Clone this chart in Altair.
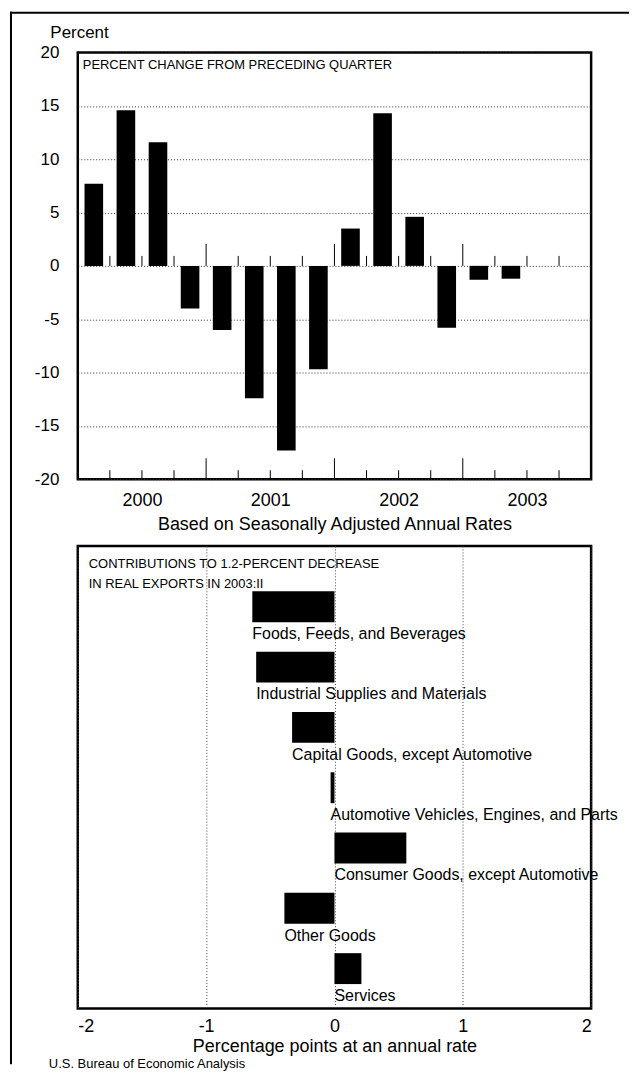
import json
import altair as alt
import pandas as pd

# ---------------- data ----------------
quarters = ["2000:I", "2000:II", "2000:III", "2000:IV",
            "2001:I", "2001:II", "2001:III", "2001:IV",
            "2002:I", "2002:II", "2002:III", "2002:IV",
            "2003:I", "2003:II"]
pct_change = [7.7, 14.6, 11.6, -4.0, -6.0, -12.4, -17.3, -9.7,
              3.5, 14.3, 4.6, -5.8, -1.3, -1.2]
years = ["2000", "2001", "2002", "2003"]
top_y_ticks = [20, 15, 10, 5, 0, -5, -10, -15, -20]

categories = ["Foods, Feeds, and Beverages",
              "Industrial Supplies and Materials",
              "Capital Goods, except Automotive",
              "Automotive Vehicles, Engines, and Parts",
              "Consumer Goods, except Automotive",
              "Other Goods",
              "Services"]
contributions = [-0.64, -0.61, -0.33, -0.03, 0.56, -0.39, 0.21]
bottom_x_ticks = [-2, -1, 0, 1, 2]

top_title = "PERCENT CHANGE FROM PRECEDING QUARTER"
bottom_title = "CONTRIBUTIONS TO 1.2-PERCENT DECREASE\nIN REAL EXPORTS IN 2003:II"
source = "U.S. Bureau of Economic Analysis"

FONT = "Liberation Sans"
TOP_W, TOP_H = 515, 428
BOT_W, BOT_H = 515, 464
GAP = 67
PX_PER_UNIT = TOP_H / 40.0
ROW_PX = 60.5

# ---------------- top chart ----------------
df_top = pd.DataFrame({"quarter": quarters, "q": list(range(len(quarters))), "value": pct_change})
n_slots = 4 * len(years)
df_bounds = pd.DataFrame({"b": list(range(1, n_slots))})
df_bounds["major"] = df_bounds["b"] % 4 == 0

xs_top = alt.Scale(domain=[0, n_slots], nice=False, zero=False)
ys_top = alt.Scale(domain=[-20, 20], nice=False)

label_expr_years = json.dumps(years) + "[round((datum.value - 2) / 4)]"

x_axis_top = alt.Axis(values=[2, 6, 10, 14], labelExpr=label_expr_years,
                      grid=False, ticks=False, domain=False,
                      labelFontSize=18, labelPadding=12, labelColor="black",
                      title="Based on Seasonally Adjusted Annual Rates",
                      titleFontSize=18, titleFontWeight="normal",
                      titlePadding=6, titleColor="black")
y_axis_top = alt.Axis(values=top_y_ticks, labelExpr="'' + datum.value",
                      grid=True, gridDash=[1, 2], gridColor="#333",
                      gridWidth=1, ticks=False, domain=False,
                      labelFontSize=17, labelPadding=19, labelColor="black",
                      title="Percent", titleAngle=0, titleAlign="left",
                      titleBaseline="middle", titleX=-28, titleY=-20,
                      titleFontSize=17, titleFontWeight="normal",
                      titleColor="black")

bars_top = alt.Chart(df_top).transform_calculate(
    x0="datum.q + 0.21", x1="datum.q + 0.79"
).mark_rect(color="black").encode(
    x=alt.X("x0:Q", scale=xs_top, axis=x_axis_top),
    x2="x1:Q",
    y=alt.Y("value:Q", scale=ys_top, axis=y_axis_top),
    y2=alt.datum(0),
)

zero_ticks = alt.Chart(df_bounds).transform_calculate(
    y0="0", y1=f"datum.major ? {22 / PX_PER_UNIT} : {10 / PX_PER_UNIT}"
).mark_rule(color="black", strokeWidth=1).encode(
    x=alt.X("b:Q", scale=xs_top, axis=x_axis_top),
    y=alt.Y("y0:Q", scale=ys_top, axis=y_axis_top),
    y2="y1:Q",
)

bottom_ticks = alt.Chart(df_bounds).transform_calculate(
    y0="-20", y1=f"datum.major ? {-20 + 21 / PX_PER_UNIT} : {-20 + 9 / PX_PER_UNIT}"
).mark_rule(color="black", strokeWidth=1).encode(
    x=alt.X("b:Q", scale=xs_top, axis=x_axis_top),
    y=alt.Y("y0:Q", scale=ys_top, axis=y_axis_top),
    y2="y1:Q",
)

top_title_layer = alt.Chart(pd.DataFrame({"t": [top_title]})).mark_text(
    align="left", baseline="middle", fontSize=13, color="black"
).encode(x=alt.value(5), y=alt.value(12), text="t:N")

one = pd.DataFrame({"k": [0]})
# outer page frame (top line and left line)
frame_top = alt.Chart(one).mark_rect(color="black").encode(
    x=alt.value(-68), x2=alt.value(553), y=alt.value(-41), y2=alt.value(-39))
frame_left = alt.Chart(one).mark_rect(color="black").encode(
    x=alt.value(-68), x2=alt.value(-66), y=alt.value(-41), y2=alt.value(1015))

top_chart = alt.layer(
    bars_top, zero_ticks, bottom_ticks, top_title_layer,
    frame_top, frame_left
).properties(width=TOP_W, height=TOP_H)

# ---------------- bottom chart ----------------
df_bot = pd.DataFrame({"category": categories, "i": list(range(len(categories))),
                       "value": contributions})
half = 15.5 / ROW_PX
top_pad = 61 / ROW_PX
bot_pad = 40 / ROW_PX
n_rows = len(categories)
ys_bot = alt.Scale(domain=[-(n_rows - 1) - bot_pad, top_pad], nice=False, zero=False)
xs_bot = alt.Scale(domain=[-2, 2], nice=False)

x_axis_bot = alt.Axis(values=bottom_x_ticks, labelExpr="'' + datum.value",
                      grid=True, gridDash=[1, 2], gridColor="#444",
                      gridWidth=1, ticks=False, domain=False,
                      labelFontSize=18, labelPadding=9, labelColor="black",
                      title="Percentage points at an annual rate",
                      titleFontSize=18, titleFontWeight="normal",
                      titlePadding=2, titleColor="black")

bars_bot = alt.Chart(df_bot).transform_calculate(
    ytop=f"-datum.i + {half}", ybot=f"-datum.i - {half}"
).mark_rect(color="black").encode(
    x=alt.X("value:Q", scale=xs_bot, axis=x_axis_bot),
    x2=alt.datum(0),
    y=alt.Y("ytop:Q", scale=ys_bot, axis=None),
    y2="ybot:Q",
)

labels_bot = alt.Chart(df_bot).transform_calculate(
    ybot=f"-datum.i - {half}", xl="min(datum.value, 0)"
).mark_text(align="left", baseline="middle", fontSize=16, dy=12, color="black").encode(
    x=alt.X("xl:Q", scale=xs_bot, axis=x_axis_bot),
    y=alt.Y("ybot:Q", scale=ys_bot, axis=None),
    text="category:N",
)

bottom_title_layer = alt.Chart(pd.DataFrame({"t": [bottom_title]})).mark_text(
    align="left", baseline="middle", fontSize=13, lineBreak="\n", lineHeight=20,
    color="black"
).encode(x=alt.value(11), y=alt.value(18), text="t:N")

source_layer = alt.Chart(pd.DataFrame({"t": [source]})).mark_text(
    align="left", baseline="middle", fontSize=13, color="black"
).encode(x=alt.value(-29), y=alt.value(520), text="t:N")

bottom_chart = alt.layer(
    bars_bot, labels_bot, bottom_title_layer, source_layer
).properties(width=BOT_W, height=BOT_H)

chart = alt.vconcat(top_chart, bottom_chart, spacing=GAP, bounds="flush").properties(
    padding=0
).configure(font=FONT, padding=0).configure_view(stroke="black", strokeWidth=2.5)

chart.save("out.html", embed_options={"renderer": "svg", "actions": False})
